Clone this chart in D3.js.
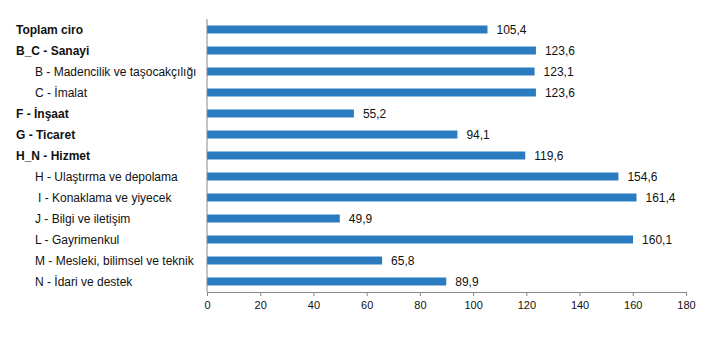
<!DOCTYPE html>
<html>
<head>
<meta charset="utf-8">
<script src="https://cdn.jsdelivr.net/npm/d3@7"></script>
<style>
  body { margin: 0; background: #fff; }
  svg { display: block; font-family: "Liberation Sans", Arial, sans-serif; }
</style>
</head>
<body>
<div id="chart"></div>
<script>
// veriler
const categories = [
  "Toplam ciro",
  "B_C - Sanayi",
  "B - Madencilik ve taşocakçılığı",
  "C - İmalat",
  "F - İnşaat",
  "G - Ticaret",
  "H_N - Hizmet",
  "H - Ulaştırma ve depolama",
  "I - Konaklama ve yiyecek",
  "J - Bilgi ve iletişim",
  "L - Gayrimenkul",
  "M - Mesleki, bilimsel ve teknik",
  "N - İdari ve destek"
];
const values = [105.4, 123.6, 123.1, 123.6, 55.2, 94.1, 119.6, 154.6, 161.4, 49.9, 160.1, 65.8, 89.9];
const isMain = [true, true, false, false, true, true, true, false, false, false, false, false, false];
const xTicks = [0, 20, 40, 60, 80, 100, 120, 140, 160, 180];

const width = 718, height = 337;
const margin = { top: 19, right: 32, bottom: 45, left: 207 };

const svg = d3.select("#chart")
    .append("svg")
    .attr("width", width)
    .attr("height", height);

const x = d3.scaleLinear()
    .domain([0, 180])
    .range([margin.left, width - margin.right]);

const y = d3.scaleBand()
    .domain(categories)
    .range([margin.top, height - margin.bottom])
    .paddingInner(0.62)
    .paddingOuter(0.31);

// çubuklar
svg.selectAll("rect.bar")
    .data(categories)
    .join("rect")
    .attr("class", "bar")
    .attr("x", x(0))
    .attr("y", d => y(d))
    .attr("width", (d, i) => x(values[i]) - x(0))
    .attr("height", y.bandwidth())
    .attr("fill", "#2a7bbf");

// değer etiketleri
svg.selectAll("text.val")
    .data(categories)
    .join("text")
    .attr("class", "val")
    .attr("x", (d, i) => x(values[i]) + 9)
    .attr("y", d => y(d) + y.bandwidth() / 2)
    .attr("dy", "0.35em")
    .style("font-size", "12px")
    .attr("fill", "#111")
    .text((d, i) => d3.format(".1f")(values[i]).replace(".", ","));

// kategori etiketleri
svg.selectAll("text.cat")
    .data(categories)
    .join("text")
    .attr("class", "cat")
    .attr("x", (d, i) => isMain[i] ? 16 : (d.startsWith("I -") ? 38 : 35))
    .attr("y", d => y(d) + y.bandwidth() / 2)
    .attr("dy", "0.35em")
    .style("font-size", "12px")
    .style("font-weight", (d, i) => isMain[i] ? "bold" : "normal")
    .attr("fill", "#111")
    .text(d => d);

// X ekseni
const xAxis = svg.append("g")
    .attr("transform", `translate(0,${height - margin.bottom})`)
    .call(d3.axisBottom(x).tickValues(xTicks).tickSize(4).tickPadding(5));
xAxis.select(".domain").attr("stroke", "#888");
xAxis.selectAll(".tick line").attr("stroke", "#888");
xAxis.selectAll(".tick text")
    .style("font-size", "11px")
    .style("font-family", "'Liberation Sans', Arial, sans-serif")
    .attr("fill", "#111");

// Y ekseni çizgisi
svg.append("line")
    .attr("x1", x(0)).attr("x2", x(0))
    .attr("y1", margin.top)
    .attr("y2", height - margin.bottom)
    .attr("stroke", "#888");
</script>
</body>
</html>
